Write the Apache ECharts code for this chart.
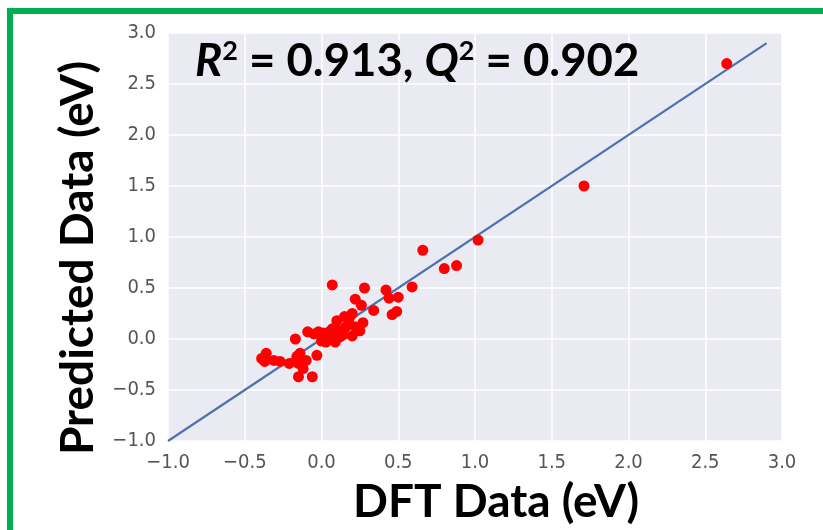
<!DOCTYPE html>
<html>
<head>
<meta charset="utf-8">
<script src="https://cdn.jsdelivr.net/npm/echarts@6/dist/echarts.min.js"></script>
<style>html,body{margin:0;padding:0;background:#fff}#c{width:823px;height:530px}</style>
</head>
<body>
<div id="c"></div>
<script>
// Data
const dftValues = [2.64, 1.71, 1.02, 0.66, 0.88, 0.80, 0.59, 0.50, 0.44, 0.42, 0.49, 0.46, 0.28, 0.07,
  0.22, 0.26, 0.34, 0.20, 0.15, 0.10, 0.27, 0.22, 0.16, 0.10, 0.25, 0.20, 0.14, 0.08, 0.03, 0.01,
  -0.02, -0.09, -0.17, 0.07, 0.09, 0.12, -0.03, -0.06, -0.15, -0.12, -0.15, -0.16, -0.14, -0.21,
  -0.27, -0.31, -0.37, -0.39, -0.36, -0.10, 0.05, 0.18, -0.05, 0.04, 0.00];
const predictedValues = [2.70, 1.50, 0.97, 0.87, 0.72, 0.69, 0.51, 0.41, 0.40, 0.48, 0.27, 0.24, 0.50, 0.53,
  0.39, 0.33, 0.28, 0.25, 0.22, 0.18, 0.16, 0.12, 0.12, 0.09, 0.08, 0.03, 0.04, 0.01, -0.03, 0.06,
  0.07, 0.07, 0.00, 0.10, -0.03, 0.02, -0.16, -0.37, -0.37, -0.29, -0.24, -0.17, -0.14, -0.24,
  -0.22, -0.21, -0.22, -0.19, -0.14, -0.21, 0.07, 0.20, 0.05, 0.00, -0.02];
const fitLineX = [-1.0, 2.9];
const fitLineY = [-1.0, 2.9];
const axisTicks = [-1.0, -0.5, 0.0, 0.5, 1.0, 1.5, 2.0, 2.5, 3.0];
const xAxisTitle = 'DFT Data (eV)';
const yAxisTitle = 'Predicted Data (eV)';

const scatterData = dftValues.map((x, i) => [x, predictedValues[i]]);
const lineData = fitLineX.map((x, i) => [x, fitLineY[i]]);
const tickFont = '"Liberation Sans Narrow", "DejaVu Sans Condensed", sans-serif';
const titleFont = 'Lato, "Open Sans", sans-serif';

const chart = echarts.init(document.getElementById('c'), null, {renderer: 'canvas'});
const axisCommon = {
  type: 'value',
  min: axisTicks[0],
  max: axisTicks[axisTicks.length - 1],
  interval: 0.5,
  axisLine: {show: false},
  axisTick: {show: false},
  splitLine: {show: true, lineStyle: {color: '#ffffff', width: 1.5}},
  nameLocation: 'middle',
  axisLabel: {fontFamily: tickFont, fontSize: 20, color: '#555', margin: 12, formatter: v => (v < 0 ? '\u2212' : '') + Math.abs(v).toFixed(1)}
};
const nameStyle = {fontFamily: titleFont, fontWeight: 'bold', fontSize: 46, color: '#000'};
chart.setOption({
  animation: false,
  backgroundColor: '#ffffff',
  grid: {left: 168, right: 41, top: 33, bottom: 89, show: true, backgroundColor: '#EAEAF2', borderWidth: 0},
  xAxis: Object.assign({}, axisCommon, {name: xAxisTitle, nameGap: 38,
    nameTextStyle: Object.assign({}, nameStyle, {padding: [0, 0, 0, 42]})}),
  yAxis: Object.assign({}, axisCommon, {name: yAxisTitle, nameGap: 67,
    nameTextStyle: Object.assign({}, nameStyle, {padding: [0, 42, 0, 0]})}),
  series: [
    {type: 'line', data: lineData, showSymbol: false, lineStyle: {color: '#4C72B0', width: 2.2}, z: 2},
    {type: 'scatter', data: scatterData, symbolSize: 11, itemStyle: {color: '#FF0000', opacity: 1}, z: 3}
  ],
  graphic: [
    {type: 'rect', shape: {x: 7, y: 8, width: 6, height: 522}, style: {fill: '#00B050'}},
    {type: 'rect', shape: {x: 7, y: 8, width: 816, height: 6}, style: {fill: '#00B050'}},
    {type: 'text', left: 195, top: 38, z: 10, style: {
      rich: {
        i: {fontFamily: titleFont, fontWeight: 'bold', fontStyle: 'italic', fontSize: 45.5, fill: '#000'},
        n: {fontFamily: titleFont, fontWeight: 'bold', fontSize: 45.5, fill: '#000'},
        s: {fontFamily: titleFont, fontWeight: 'bold', fontSize: 27, fill: '#000', verticalAlign: 'top', padding: [0, 0, 18, 0]}
      },
      text: '{i|R}{s|2}{n| = 0.913, }{i|Q}{s|2}{n| = 0.902}'
    }}
  ]
});
</script>
</body>
</html>
